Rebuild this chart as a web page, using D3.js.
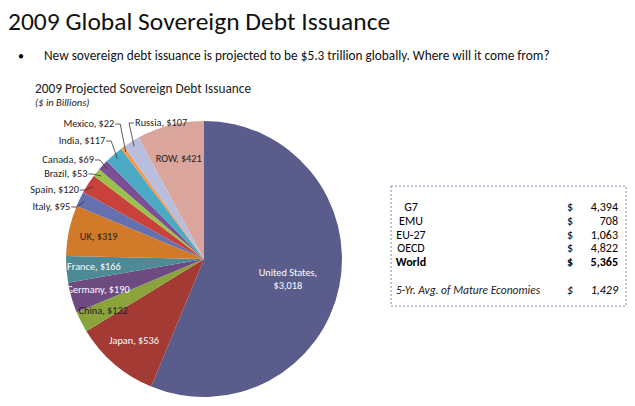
<!DOCTYPE html>
<html><head><meta charset="utf-8">
<script src="https://cdn.jsdelivr.net/npm/d3@7"></script>
<style>body{margin:0;background:#fff}text{font-family:Calibri,Carlito,"Open Sans",sans-serif}</style>
</head><body>
<svg id="c" width="635" height="406"></svg>
<script>
const countries=["United States","Japan","China","Germany","France","UK","Italy","Spain","Brazil","Canada","India","Mexico","Russia","ROW"];
const values=[3018,536,132,190,166,319,95,120,53,69,117,22,107,421];
const colors=["#5a5c8c","#a33b34","#8aa33a","#6d4a80","#4d8a96","#d07a2a","#6470b0","#c8413a","#9ac24a","#7a4f95","#4baac6","#f79646","#b8bedc","#d9a59c"];
const tableLabels=["G7","EMU","EU-27","OECD","World"];
const tableValues=["4,394","708","1,063","4,822","5,365"];
const avgLabel="5-Yr. Avg. of Mature Economies", avgValue="1,429";
// outside label baselines (page y)
const outsideY={"Italy":210,"Spain":193,"Brazil":177,"Canada":163,"India":144,"Mexico":127,"Russia":126};

const svg=d3.select("#c");
svg.append("text").attr("x",8).attr("y",30).attr("font-size",25.5).attr("fill","#111").text("2009 Global Sovereign Debt Issuance");
svg.append("text").attr("x",18).attr("y",60).attr("font-size",12).text("•");
svg.append("text").attr("x",44).attr("y",60).attr("font-size",13.3).attr("fill","#111").text("New sovereign debt issuance is projected to be $5.3 trillion globally.  Where will it come from?");
svg.append("text").attr("x",35).attr("y",93).attr("font-size",13.3).attr("fill","#222").text("2009 Projected Sovereign Debt Issuance");
svg.append("text").attr("x",35).attr("y",106).attr("font-size",10.5).attr("font-style","italic").attr("fill","#222").text("($ in Billions)");

const cx=204,cy=259,R=138;
const data=countries.map((c,i)=>({c,v:values[i],col:colors[i],i}));
const pie=d3.pie().value(d=>d.v).sort(null);
const arcs=pie(data);
const arc=d3.arc().innerRadius(0).outerRadius(R);
const g=svg.append("g").attr("transform",`translate(${cx},${cy})`);
g.selectAll("path").data(arcs).join("path").attr("d",arc).attr("fill",d=>d.data.col);

const inside={"United States":0.62,"Japan":0.78,"China":0.82,"Germany":0.8,"France":0.8,"UK":0.78,"ROW":0.75};
const whiteL=new Set(["United States","Japan","Germany","France"]);
const fs=10.3;
arcs.forEach(a=>{
  const n=a.data.c, lab=a.data.c+", $"+d3.format(",")(a.data.v);
  if(inside[n]){
    const p=d3.arc().innerRadius(R*inside[n]).outerRadius(R*inside[n]).centroid(a);
    const t=g.append("text").attr("text-anchor","middle").attr("font-size",fs).attr("fill",whiteL.has(n)?"#fff":"#222");
    if(n==="United States"){
      t.append("tspan").attr("x",p[0]).attr("y",p[1]).text("United States,");
      t.append("tspan").attr("x",p[0]).attr("y",p[1]+13).text("$3,018");
    } else t.attr("x",p[0]).attr("y",p[1]+3).text(lab);
  } else {
    const m=(a.startAngle+a.endAngle)/2;
    const p1=[Math.sin(m)*R*0.96,-Math.cos(m)*R*0.96];
    const ty=outsideY[n]-cy-3;
    const right=n==="Russia";
    const p2=[Math.sin(m)*(R+4),ty];
    const p3=[p2[0]+(right?5:-5),ty];
    g.append("path").attr("d",d3.line()([p1,p2,p3])).attr("fill","none").attr("stroke","#333").attr("stroke-width",0.8);
    g.append("text").attr("x",p3[0]+(right?1:-1)).attr("y",ty+3).attr("text-anchor",right?"start":"end").attr("font-size",fs).attr("fill","#222").text(lab);
  }
});

svg.append("rect").attr("x",391).attr("y",186).attr("width",235).attr("height",120).attr("fill","none").attr("stroke","#8088aa").attr("stroke-dasharray","2,2");
const rowY=d3.scaleLinear().domain([0,4]).range([207,262]);
tableLabels.forEach((l,i)=>{
  const b=l==="World"?"bold":"normal";
  svg.append("text").attr("x",411).attr("y",rowY(i)+4).attr("text-anchor","middle").attr("font-size",12).attr("font-weight",b).text(l);
  svg.append("text").attr("x",567).attr("y",rowY(i)+4).attr("font-size",12).attr("font-weight",b).text("$");
  svg.append("text").attr("x",618).attr("y",rowY(i)+4).attr("text-anchor","end").attr("font-size",12).attr("font-weight",b).text(tableValues[i]);
});
svg.append("text").attr("x",396).attr("y",294).attr("font-size",11.5).attr("font-style","italic").attr("font-family","Arial,Liberation Sans").attr("fill","#222").text(avgLabel);
svg.append("text").attr("x",567).attr("y",294).attr("font-size",12).attr("font-style","italic").text("$");
svg.append("text").attr("x",618).attr("y",294).attr("text-anchor","end").attr("font-size",12).attr("font-style","italic").text(avgValue);
</script></body></html>
